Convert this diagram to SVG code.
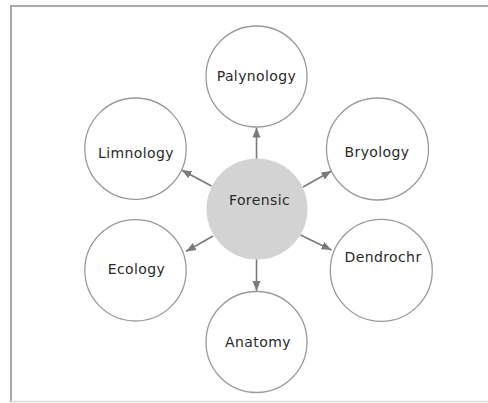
<svg xmlns="http://www.w3.org/2000/svg" width="488" height="403" viewBox="0 0 488 403">
<style>
.node{fill:#ffffff;stroke:#9a9a9a;stroke-width:1.3}
.hub{fill:#d3d3d3;stroke:none}
.lbl{font-family:"DejaVu Sans","Liberation Sans",sans-serif;font-size:14px;letter-spacing:0.4px;fill:#2a2a2a;text-anchor:middle}
.conn{stroke:#7a7a7a;stroke-width:1.6;fill:none;marker-end:url(#ah)}
</style>
<defs>
<marker id="ah" markerUnits="userSpaceOnUse" markerWidth="10" markerHeight="10" viewBox="0 0 10 10" refX="10" refY="5" orient="auto">
<path d="M0,1 L10,5 L0,9 Z" fill="#7a7a7a"/>
</marker>
</defs>
<rect width="488" height="403" fill="#ffffff"/>
<g id="frame">
<line x1="11" y1="6" x2="488" y2="6" stroke="#a8a8a8" stroke-width="2"/>
<line x1="11" y1="5" x2="11" y2="402" stroke="#a8a8a8" stroke-width="2"/>
<line x1="11" y1="401.5" x2="488" y2="401.5" stroke="#dcdcdc" stroke-width="1.5"/>
</g>
<g id="connectors">
<line class="conn" x1="256.5" y1="159" x2="256.5" y2="127.5"/>
<line class="conn" x1="256.5" y1="259" x2="256.5" y2="291"/>
<line class="conn" x1="211.5" y1="186" x2="181.5" y2="170"/>
<line class="conn" x1="303" y1="187" x2="331.5" y2="171"/>
<line class="conn" x1="213" y1="236" x2="186" y2="251.5"/>
<line class="conn" x1="300.5" y1="235" x2="331.5" y2="250"/>
</g>
<g id="palynology">
<circle class="node" cx="256.5" cy="76.5" r="50.5"/>
<text class="lbl" x="256.5" y="81">Palynology</text>
</g>
<g id="limnology">
<circle class="node" cx="135.5" cy="148.7" r="50.7"/>
<text class="lbl" x="136" y="157.5">Limnology</text>
</g>
<g id="bryology">
<circle class="node" cx="377.5" cy="149" r="51"/>
<text class="lbl" x="377" y="157">Bryology</text>
</g>
<g id="forensic">
<circle class="hub" cx="257" cy="209" r="50.5"/>
<text class="lbl" x="259.5" y="205">Forensic</text>
</g>
<g id="ecology">
<circle class="node" cx="135.5" cy="270.3" r="50.7"/>
<text class="lbl" x="136.5" y="274">Ecology</text>
</g>
<g id="dendrochr">
<circle class="node" cx="381.3" cy="270.3" r="51"/>
<text class="lbl" x="383" y="261.5">Dendrochr</text>
</g>
<g id="anatomy">
<circle class="node" cx="256.5" cy="342" r="50.5"/>
<text class="lbl" x="258" y="347">Anatomy</text>
</g>
</svg>
